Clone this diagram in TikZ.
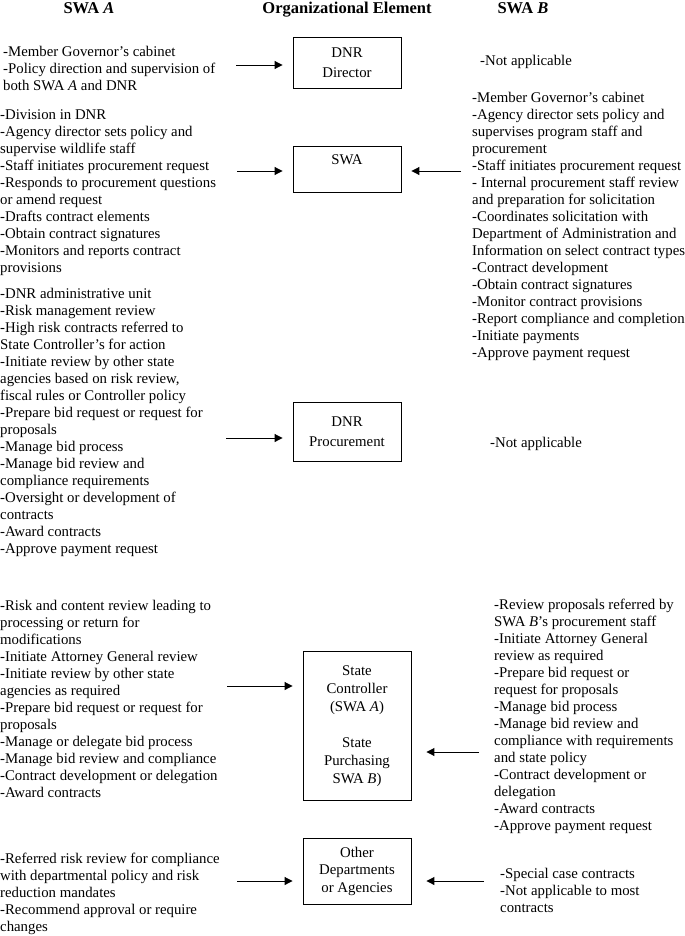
\documentclass[tikz,border=0pt]{standalone}
\usepackage{fontspec}
\setmainfont{Liberation Serif}
\usetikzlibrary{arrows.meta}
\tikzset{
 txt/.style={anchor=north west, inner sep=0, align=left, font=\fontsize{14.8bp}{17bp}\selectfont},
 hdr/.style={anchor=base, inner sep=0, font=\fontsize{16.5bp}{17bp}\selectfont\bfseries},
 box/.style={draw, line width=0.9bp, minimum width=108bp, inner sep=0, align=center, font=\fontsize{14.8bp}{20bp}\selectfont},
 arr/.style={line width=1bp, -{Triangle[length=8bp,width=8bp]}},
}
\begin{document}
\begin{tikzpicture}[x=1bp,y=-1bp]
\useasboundingbox (0,0) rectangle (685,936);
% headers
\node[hdr] (hA) at (89,13.5) {SWA \textit{A}};
\node[hdr] (hO) at (347,13.5) {Organizational Element};
\node[hdr] (hB) at (523,13.5) {SWA \textit{B}};
% boxes
\node[box, minimum height=51bp] (dir) at (347,62.5) {DNR\\Director};
\node[box, minimum height=46bp] (swa) at (347,169) {SWA\\[-2bp]\mbox{}};
\node[box, minimum height=59bp] (proc) at (347,431.5) {DNR\\Procurement};
\node[box, minimum height=149bp, font=\fontsize{14.8bp}{18bp}\selectfont] (ctrl) at (357,726) {State\\Controller\\(SWA \textit{A})\\[18bp]State\\Purchasing\\SWA \textit{B})};
\node[box, minimum height=66bp, font=\fontsize{14.8bp}{17.5bp}\selectfont] (oth) at (357,871) {Other\\Departments\\or Agencies};
% left texts
\node[txt] (l1) at (3,44) {\strut-Member Governor’s cabinet\\-Policy direction and supervision of\\both SWA \textit{A} and DNR};
\node[txt] (l2) at (0,107) {\strut-Division in DNR\\-Agency director sets policy and\\supervise wildlife staff\\-Staff initiates procurement request\\-Responds to procurement questions\\or amend request\\-Drafts contract elements\\-Obtain contract signatures\\-Monitors and reports contract\\provisions};
\node[txt] (l3) at (0,286) {\strut-DNR administrative unit\\-Risk management review\\-High risk contracts referred to\\State Controller’s for action\\-Initiate review by other state\\agencies based on risk review,\\fiscal rules or Controller policy\\-Prepare bid request or request for\\proposals\\-Manage bid process\\-Manage bid review and\\compliance requirements\\-Oversight or development of\\contracts\\-Award contracts\\-Approve payment request};
\node[txt] (l4) at (0,598) {\strut-Risk and content review leading to\\processing or return for\\modifications\\-Initiate Attorney General review\\-Initiate review by other state\\agencies as required\\-Prepare bid request or request for\\proposals\\-Manage or delegate bid process\\-Manage bid review and compliance\\-Contract development or delegation\\-Award contracts};
\node[txt] (l5) at (0,851) {\strut-Referred risk review for compliance\\with departmental policy and risk\\reduction mandates\\-Recommend approval or require\\changes};
% right texts
\node[txt] (r1) at (480,53) {\strut-Not applicable};
\node[txt] (r2) at (472,90) {\strut-Member Governor’s cabinet\\-Agency director sets policy and\\supervises program staff and\\procurement\\-Staff initiates procurement request\\- Internal procurement staff review\\and preparation for solicitation\\-Coordinates solicitation with\\Department of Administration and\\Information on select contract types\\-Contract development\\-Obtain contract signatures\\-Monitor contract provisions\\-Report compliance and completion\\-Initiate payments\\-Approve payment request};
\node[txt] (r3) at (490,435) {\strut-Not applicable};
\node[txt] (r4) at (494,597) {\strut-Review proposals referred by\\SWA \textit{B}’s procurement staff\\-Initiate Attorney General\\review as required\\-Prepare bid request or\\request for proposals\\-Manage bid process\\-Manage bid review and\\compliance with requirements\\and state policy\\-Contract development or\\delegation\\-Award contracts\\-Approve payment request};
\node[txt] (r5) at (500,866) {\strut-Special case contracts\\-Not applicable to most\\contracts};
% arrow start points
\coordinate (s1) at (236,65);
\coordinate (s2) at (237,171);
\coordinate (s3) at (461,171);
\coordinate (s4) at (226,438);
\coordinate (s5) at (227,686);
\coordinate (s6) at (479,752);
\coordinate (s7) at (237,881);
\coordinate (s8) at (484,881);
% arrows
\draw[arr, shorten >=10bp] (s1) -- (s1 -| dir.west);
\draw[arr, shorten >=10bp] (s2) -- (s2 -| swa.west);
\draw[arr, shorten >=10bp] (s3) -- (s3 -| swa.east);
\draw[arr, shorten >=10bp] (s4) -- (s4 -| proc.west);
\draw[arr, shorten >=10bp] (s5) -- (s5 -| ctrl.west);
\draw[arr, shorten >=15bp] (s6) -- (s6 -| ctrl.east);
\draw[arr, shorten >=10bp] (s7) -- (s7 -| oth.west);
\draw[arr, shorten >=15bp] (s8) -- (s8 -| oth.east);
\end{tikzpicture}
\end{document}
